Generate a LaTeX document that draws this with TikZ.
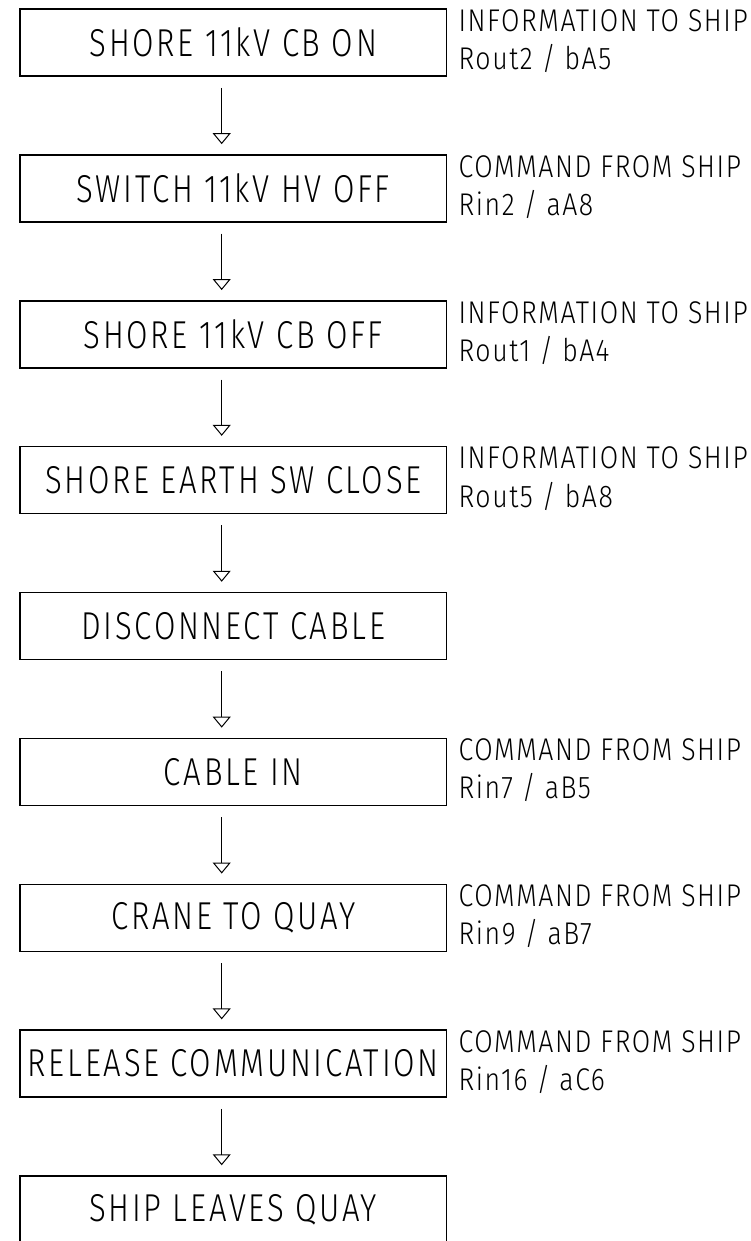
\documentclass[tikz,border=0pt]{standalone}
\usepackage{fontspec}
\usetikzlibrary{arrows.meta}
\newfontfamily\boxfont{Fira Sans Light}[FakeStretch=0.8,LetterSpace=7]
\newfontfamily\sidefont{Fira Sans Light}[FakeStretch=0.85,LetterSpace=5]
\tikzset{
  stepbox/.style={draw, line width=1.5bp, minimum width=426.7bp, minimum height=67bp,
    inner sep=0pt, font=\boxfont\fontsize{39}{44}\selectfont},
  side/.style={anchor=north west, inner sep=0pt, align=left,
    font=\sidefont\fontsize{31.5}{38.3}\selectfont},
  conn/.style={line width=1bp, -{Triangle[open, width=18bp, length=11bp, line width=1bp]}}
}
\begin{document}
\begin{tikzpicture}[x=1bp,y=-1bp]
\useasboundingbox (0,0) rectangle (751,1241);
\node[stepbox] (b1) at (233.3,42.5) {SHORE 11kV CB ON};
\node[stepbox] (b2) at (233.3,188.4) {SWITCH 11kV HV OFF};
\node[stepbox] (b3) at (233.3,334.3) {SHORE 11kV CB OFF};
\node[stepbox] (b4) at (233.3,480.1) {SHORE EARTH SW CLOSE};
\node[stepbox] (b5) at (233.3,626.0) {DISCONNECT CABLE};
\node[stepbox] (b6) at (233.3,771.9) {CABLE IN};
\node[stepbox] (b7) at (233.3,917.8) {CRANE TO QUAY};
\node[stepbox] (b8) at (233.3,1063.6) {RELEASE COMMUNICATION};
\node[stepbox] (b9) at (233.3,1209.5) {SHIP LEAVES QUAY};

\node[side] (l1) at ([xshift=11bp,yshift=-1bp]b1.north east) {INFORMATION TO SHIP\\Rout2 / bA5};
\node[side] (l2) at ([xshift=11bp,yshift=-1bp]b2.north east) {COMMAND FROM SHIP\\Rin2 / aA8};
\node[side] (l3) at ([xshift=11bp,yshift=-1bp]b3.north east) {INFORMATION TO SHIP\\Rout1 / bA4};
\node[side] (l4) at ([xshift=11bp,yshift=-1bp]b4.north east) {INFORMATION TO SHIP\\Rout5 / bA8};
\node[side] (l6) at ([xshift=11bp,yshift=-1bp]b6.north east) {COMMAND FROM SHIP\\Rin7 / aB5};
\node[side] (l7) at ([xshift=11bp,yshift=-1bp]b7.north east) {COMMAND FROM SHIP\\Rin9 / aB7};
\node[side] (l8) at ([xshift=11bp,yshift=-1bp]b8.north east) {COMMAND FROM SHIP\\Rin16 / aC6};

\foreach \a/\b in {b1/b2,b2/b3,b3/b4,b4/b5,b5/b6,b6/b7,b7/b8,b8/b9}
  \draw[conn] ([xshift=-11.6bp,yshift=-11bp]\a.south) -- ([xshift=-11.6bp,yshift=10bp]\b.north);
\end{tikzpicture}
\end{document}
